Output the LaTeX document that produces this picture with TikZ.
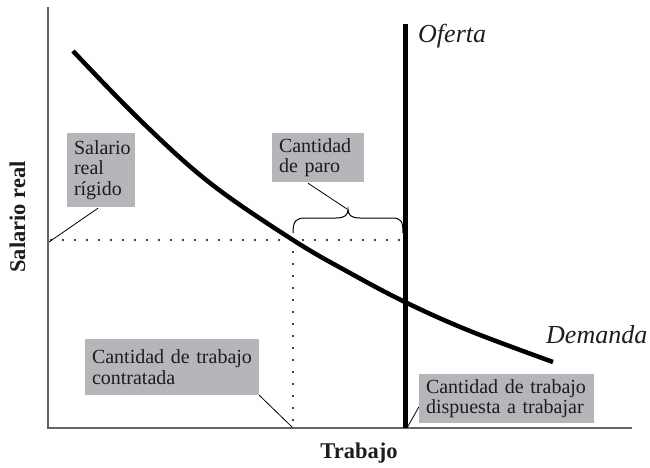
\documentclass[tikz,border=0pt]{standalone}
\usepackage{fontspec}
\setmainfont{Liberation Serif}
\usetikzlibrary{calc}
\definecolor{boxgray}{RGB}{180,182,186}
\definecolor{axisgray}{RGB}{100,100,100}
\definecolor{ink}{RGB}{30,28,28}
\begin{document}
\begin{tikzpicture}[x=1pt,y=-1pt,
  lbl/.style={fill=boxgray, text=ink, font=\fontsize{20}{20.5}\selectfont, align=left, inner xsep=7pt, inner ysep=0pt},
  conn/.style={line width=0.8pt, black},
  dots/.style={line width=2.4pt, dash pattern=on 0pt off 12pt, line cap=round},
  axis/.style={line width=1.8pt, axisgray},
  curve/.style={line width=4.5pt, black},
  ital/.style={font=\fontsize{26}{28}\selectfont\itshape, text=ink, inner sep=0pt},
  axlbl/.style={font=\fontsize{22.5}{24}\selectfont\bfseries, text=ink, inner sep=0pt}]
\useasboundingbox (0,0) rectangle (650,467);

% axes
\coordinate (O) at (48,428);
\coordinate (ytop) at (48,7);
\coordinate (xend) at (632,428);
\draw[axis] (ytop) -- (O) -- (xend);

% dotted guide lines
\coordinate (E) at (293,240);
\coordinate (ystart) at (51,240);
\coordinate (S) at (405.5,240);
\coordinate (Ebot) at (293,426);
\draw[dots] (ystart) -- (S);
\draw[dots] (E) -- (Ebot);

% demand curve
\draw[curve] plot[smooth, tension=0.6] coordinates {(73,51) (140,120) (210,183) (293,240) (350,273) (407,303) (470,331) (553,362)};

% supply line
\coordinate (stop) at (405.5,24);
\coordinate (sbot) at (405.5,428);
\draw[line width=5pt, black] (stop) -- (sbot);

% brace
\draw[line width=1pt] (293,233) .. controls (293,221) and (296,218) .. (305,218) -- (336,218)
  .. controls (345,218) and (348,215) .. (348,209)
  .. controls (348,215) and (351,218) .. (360,218) -- (392,218)
  .. controls (401,218) and (403,221) .. (403,233);
\coordinate (tip) at (347,209);

% labels
\node[ital, anchor=base west] (of) at (418,42) {Oferta};
\node[ital, anchor=base west] (dem) at (546,343) {Demanda};
\node[axlbl, anchor=base] (tr) at (359,458) {Trabajo};
\node[axlbl, anchor=base, rotate=90] (sr) at (25,217) {Salario real};

% boxes
\node[lbl, minimum width=68, minimum height=74, text width=54] (sal) at (101,170) {Salario\\real\\rígido};
\node[lbl, minimum width=92, minimum height=49, text width=78] (paro) at (318,157.5) {Cantidad\\de paro};
\node[lbl, minimum width=174, minimum height=56, text width=160] (contr) at (172,367) {Cantidad de trabajo\\contratada};
\node[lbl, minimum width=175, minimum height=49, text width=161] (disp) at (506.5,398.5) {Cantidad de trabajo\\dispuesta a trabajar};

% connectors
\coordinate (salend) at (49,242);
\coordinate (contrend) at (292,427);
\coordinate (dispend) at (407,428);
\draw[conn] ($(sal.south)+(-3,1)$) -- (salend);
\draw[conn] ($(paro.south)+(-10,1)$) -- (tip);
\draw[conn] (contr.south east) -- (contrend);
\draw[conn] ($(disp.west)+(0,8.5)$) -- (dispend);
\end{tikzpicture}
\end{document}
